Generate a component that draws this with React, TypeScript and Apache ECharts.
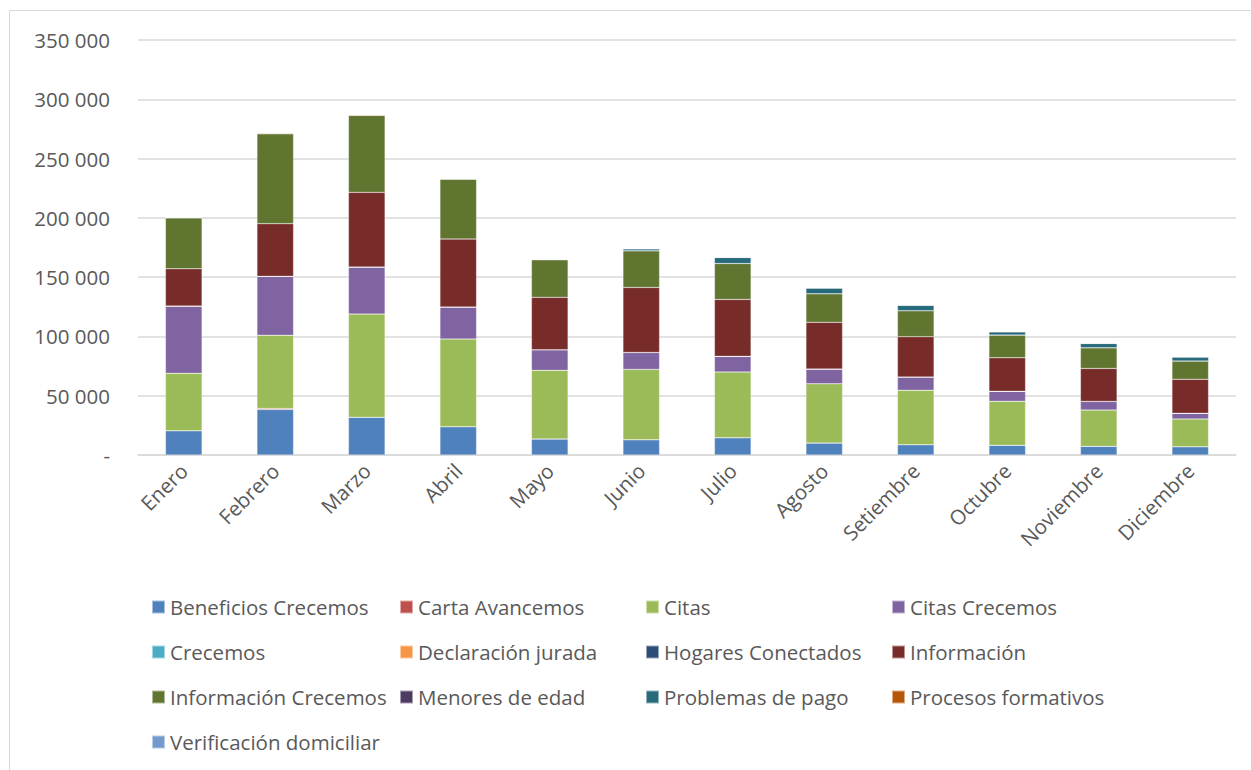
import React, { useEffect, useRef } from "react";
import * as echarts from "echarts";

const months = ["Enero", "Febrero", "Marzo", "Abril", "Mayo", "Junio", "Julio", "Agosto", "Setiembre", "Octubre", "Noviembre", "Diciembre"];

const seriesNames = [
  "Beneficios Crecemos",
  "Carta Avancemos",
  "Citas",
  "Citas Crecemos",
  "Crecemos",
  "Declaración jurada",
  "Hogares Conectados",
  "Información",
  "Información Crecemos",
  "Menores de edad",
  "Problemas de pago",
  "Procesos formativos",
  "Verificación domiciliar",
];

const colors = ["#4F81BD", "#C0504D", "#9BBB59", "#8064A2", "#4BACC6", "#F79646", "#2C4D75", "#772C2A", "#5F7530", "#4D3B62", "#276A7C", "#B65708", "#729ACA"];

const beneficiosCrecemos = [20500, 38400, 31800, 23900, 13500, 12900, 14600, 10100, 8700, 8200, 7300, 7000];
const cartaAvancemos = [0, 800, 0, 0, 0, 0, 0, 0, 0, 0, 0, 0];
const citas = [48400, 61800, 87100, 73900, 57900, 59300, 55400, 50000, 45900, 37100, 30600, 23400];
const citasCrecemos = [56700, 49700, 39600, 27000, 17400, 14300, 13200, 12400, 11200, 8400, 7300, 4800];
const crecemos = [0, 0, 0, 0, 0, 0, 0, 0, 0, 0, 0, 0];
const declaracionJurada = [0, 0, 0, 0, 0, 0, 0, 0, 0, 0, 0, 0];
const hogaresConectados = [0, 0, 0, 0, 0, 0, 0, 0, 0, 0, 0, 0];
const informacion = [31450, 44400, 63000, 57300, 44200, 54800, 48000, 39400, 34000, 28300, 27800, 28700];
const informacionCrecemos = [43000, 75900, 64900, 50600, 31700, 30900, 30300, 24100, 21900, 19100, 17400, 15400];
const menoresEdad = [0, 0, 0, 0, 0, 0, 0, 0, 0, 0, 0, 0];
const problemasPago = [0, 0, 0, 0, 300, 1700, 5100, 4800, 4500, 2800, 3700, 3400];
const procesosFormativos = [500, 600, 500, 400, 0, 0, 0, 0, 0, 0, 0, 0];
const verificacionDomiciliar = [0, 0, 0, 0, 0, 0, 0, 0, 0, 0, 0, 0];

const seriesValues = [
  beneficiosCrecemos, cartaAvancemos, citas, citasCrecemos, crecemos, declaracionJurada,
  hogaresConectados, informacion, informacionCrecemos, menoresEdad, problemasPago,
  procesosFormativos, verificacionDomiciliar,
];

const yTicks = [0, 50000, 100000, 150000, 200000, 250000, 300000, 350000];

const legendColumns = [
  ["Beneficios Crecemos", "Crecemos", "Información Crecemos", "Verificación domiciliar"],
  ["Carta Avancemos", "Declaración jurada", "Menores de edad"],
  ["Citas", "Hogares Conectados", "Problemas de pago"],
  ["Citas Crecemos", "Información", "Procesos formativos"],
];
const legendLefts = [146, 394, 640, 886];

const FONT = "Open Sans";
const TXT = "#595959";

function fmt(v: number): string {
  if (v === 0) return "-";
  const s = String(Math.round(v));
  return s.replace(/\B(?=(\d{3})+(?!\d))/g, " ");
}

export default function App() {
  const ref = useRef<HTMLDivElement>(null);
  useEffect(() => {
    if (!ref.current) return;
    const chart = echarts.init(ref.current, null, { renderer: "svg" });
    chart.setOption({
      animation: false,
      backgroundColor: "#ffffff",
      graphic: [
        {
          type: "rect",
          shape: { x: 9.5, y: 10.5, width: 1260, height: 800 },
          style: { fill: "none", stroke: "#d9d9d9", lineWidth: 1 },
          silent: true,
        },
      ],
      legend: legendColumns.map((col, i) => ({
        orient: "vertical",
        left: legendLefts[i],
        top: 591,
        data: col,
        icon: "rect",
        itemWidth: 13,
        itemHeight: 13,
        itemGap: 23,
        selectedMode: false,
        textStyle: { fontFamily: FONT, fontSize: 20.5, color: TXT, lineHeight: 22 },
      })),
      grid: { left: 138, right: 15, top: 40, bottom: 315, containLabel: false },
      xAxis: {
        type: "category",
        data: months,
        axisLine: { lineStyle: { color: "#d9d9d9", width: 1.5 } },
        axisTick: { show: false },
        axisLabel: {
          rotate: 45,
          interval: 0,
          margin: 12,
          fontFamily: FONT,
          fontSize: 20.5,
          color: TXT,
        },
      },
      yAxis: {
        type: "value",
        min: 0,
        max: 350000,
        interval: 50000,
        axisLine: { show: false },
        axisTick: { show: false },
        splitLine: { lineStyle: { color: "#d9d9d9", width: 1.5 } },
        axisLabel: {
          margin: 28,
          fontFamily: FONT,
          fontSize: 20.5,
          color: TXT,
          formatter: (v: number) => fmt(v),
        },
      },
      series: seriesNames.map((name, i) => ({
        name,
        type: "bar",
        stack: "total",
        barWidth: "40%",
        data: seriesValues[i],
        itemStyle: { color: colors[i], borderColor: "rgba(255,255,255,0.5)", borderWidth: 0.5 },
      })),
    });
    return () => chart.dispose();
  }, []);
  return (
    <div
      ref={ref}
      style={{ position: "fixed", left: 0, top: 0, width: 1251, height: 770 }}
    />
  );
}
